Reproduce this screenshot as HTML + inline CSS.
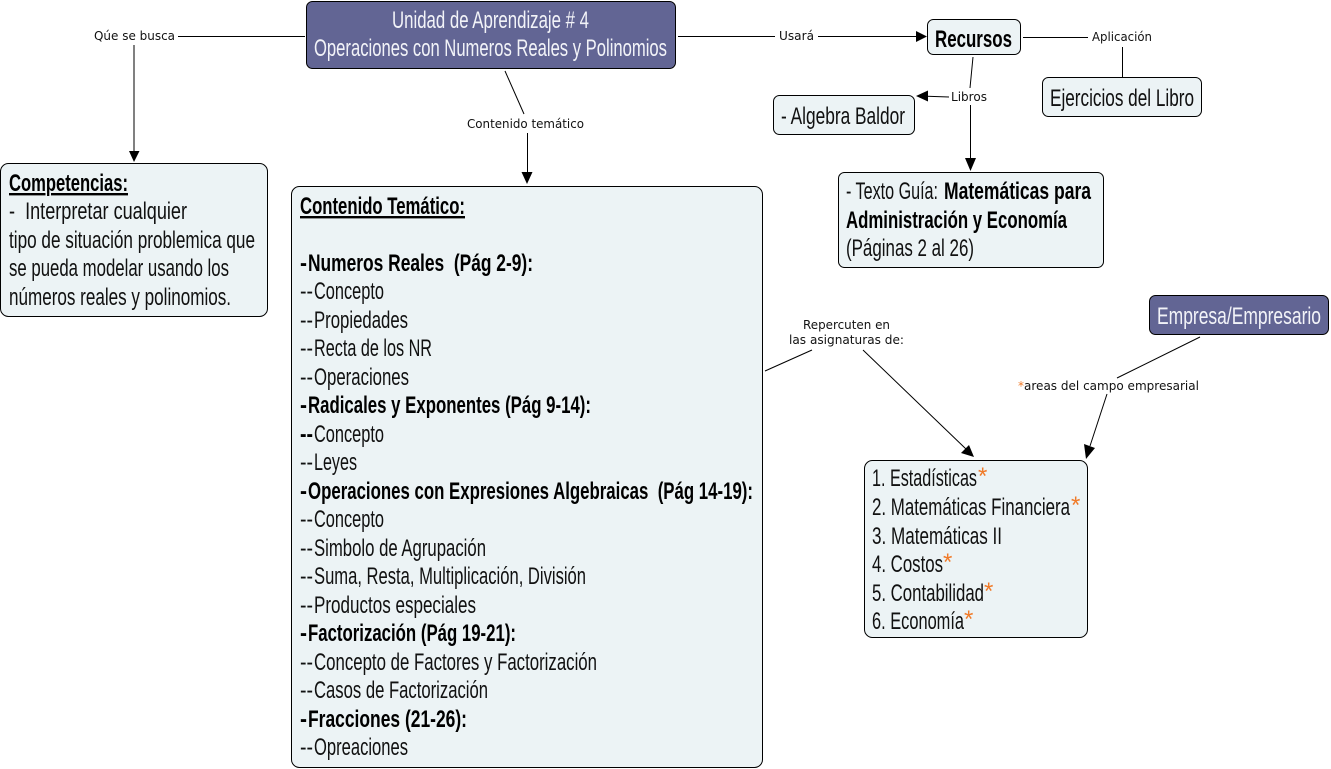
<!DOCTYPE html>
<html><head><meta charset="utf-8"><style>
html,body{margin:0;padding:0;background:#fff;width:1331px;height:769px;overflow:hidden}
svg{display:block}
.b{fill:#ecf3f5;stroke:#000;stroke-width:1}
.p{fill:#626594;stroke:#000;stroke-width:1}
.t{font-family:"Liberation Sans",sans-serif;font-size:24px;fill:#111}
.h{font-weight:bold;fill:#000}
.w{fill:#f2f3f8}
.l{font-family:"DejaVu Sans","Liberation Sans",sans-serif;font-size:12px;fill:#111}
.c{stroke:#000;stroke-width:1;fill:none}
.a{fill:#000}
.o{fill:#f07a28}
</style></head><body>
<svg width="1331" height="769" viewBox="0 0 1331 769" xmlns="http://www.w3.org/2000/svg">
<!-- connectors -->
<path class="c" d="M178 36.500H305M134 45V153M678 36.500H775M818 36.500H916M1023 37.500H1088M1122.500 47V77M973 57L970 88M949 97L927 96.300M970.500 105V160M505 71L524 114M527.500 133V173M765 371L812 350M863 350L966 449M1200 337L1117 378M1107 394L1090 446"/>
<path class="a" d="M129 151H139.500L134 162ZM916 31L927 36.500L916 42ZM928 90.500L916 96L928 101.500ZM965 158H976L970.500 171ZM521.500 172H532.500L527 184ZM961 453L969 445L974 457ZM1084 444L1095 448L1086 459Z"/>
<!-- boxes -->
<rect class="p" x="306.500" y="1.500" width="369" height="67" rx="6"/>
<rect class="b" x="0.500" y="163.500" width="267" height="153" rx="8"/>
<rect class="b" x="291.500" y="186.500" width="471" height="581" rx="8"/>
<rect class="b" x="927.500" y="19.500" width="93" height="35" rx="6"/>
<rect class="b" x="1042.500" y="77.500" width="159" height="39" rx="6"/>
<rect class="b" x="773.500" y="95.500" width="141" height="39" rx="6"/>
<rect class="b" x="838.500" y="172.500" width="265" height="95" rx="6"/>
<rect class="p" x="1149.500" y="295.500" width="179" height="39" rx="6"/>
<rect class="b" x="864.500" y="460.500" width="223" height="177" rx="8"/>
<!-- main -->
<text class="t w" x="392" y="28" textLength="197" lengthAdjust="spacingAndGlyphs">Unidad de Aprendizaje # 4</text>
<text class="t w" x="314" y="56" textLength="353" lengthAdjust="spacingAndGlyphs">Operaciones con Numeros Reales y Polinomios</text>
<!-- competencias -->
<text class="t h" x="9" y="191" textLength="119" lengthAdjust="spacingAndGlyphs" text-decoration="underline">Competencias:</text>
<text class="t" x="9" y="219" textLength="178" lengthAdjust="spacingAndGlyphs" xml:space="preserve">-  Interpretar cualquier</text>
<text class="t" x="9" y="248" textLength="246" lengthAdjust="spacingAndGlyphs">tipo de situación problemica que</text>
<text class="t" x="9" y="276" textLength="220" lengthAdjust="spacingAndGlyphs">se pueda modelar usando los</text>
<text class="t" x="9" y="305" textLength="222" lengthAdjust="spacingAndGlyphs">números reales y polinomios.</text>
<!-- contenido -->
<text class="t h" x="300" y="214" textLength="165" lengthAdjust="spacingAndGlyphs" text-decoration="underline">Contenido Temático:</text>
<text class="t h" x="300" y="271" textLength="7" lengthAdjust="spacingAndGlyphs">-</text><text class="t h" x="308" y="271" textLength="225" lengthAdjust="spacingAndGlyphs" xml:space="preserve">Numeros Reales  (Pág 2-9):</text>
<text class="t" x="300" y="299" textLength="13" lengthAdjust="spacingAndGlyphs">--</text><text class="t" x="314" y="299" textLength="70" lengthAdjust="spacingAndGlyphs">Concepto</text>
<text class="t" x="300" y="328" textLength="13" lengthAdjust="spacingAndGlyphs">--</text><text class="t" x="314" y="328" textLength="94" lengthAdjust="spacingAndGlyphs">Propiedades</text>
<text class="t" x="300" y="356" textLength="13" lengthAdjust="spacingAndGlyphs">--</text><text class="t" x="314" y="356" textLength="118" lengthAdjust="spacingAndGlyphs">Recta de los NR</text>
<text class="t" x="300" y="385" textLength="13" lengthAdjust="spacingAndGlyphs">--</text><text class="t" x="314" y="385" textLength="95" lengthAdjust="spacingAndGlyphs">Operaciones</text>
<text class="t h" x="300" y="413" textLength="7" lengthAdjust="spacingAndGlyphs">-</text><text class="t h" x="308" y="413" textLength="283" lengthAdjust="spacingAndGlyphs">Radicales y Exponentes (Pág 9-14):</text>
<text class="t h" x="300" y="442" textLength="13" lengthAdjust="spacingAndGlyphs">--</text><text class="t" x="314" y="442" textLength="70" lengthAdjust="spacingAndGlyphs">Concepto</text>
<text class="t" x="300" y="470" textLength="13" lengthAdjust="spacingAndGlyphs">--</text><text class="t" x="314" y="470" textLength="43" lengthAdjust="spacingAndGlyphs">Leyes</text>
<text class="t h" x="300" y="499" textLength="7" lengthAdjust="spacingAndGlyphs">-</text><text class="t h" x="308" y="499" textLength="445" lengthAdjust="spacingAndGlyphs" xml:space="preserve">Operaciones con Expresiones Algebraicas  (Pág 14-19):</text>
<text class="t" x="300" y="527" textLength="13" lengthAdjust="spacingAndGlyphs">--</text><text class="t" x="314" y="527" textLength="70" lengthAdjust="spacingAndGlyphs">Concepto</text>
<text class="t" x="300" y="556" textLength="13" lengthAdjust="spacingAndGlyphs">--</text><text class="t" x="314" y="556" textLength="172" lengthAdjust="spacingAndGlyphs">Simbolo de Agrupación</text>
<text class="t" x="300" y="584" textLength="13" lengthAdjust="spacingAndGlyphs">--</text><text class="t" x="314" y="584" textLength="272" lengthAdjust="spacingAndGlyphs">Suma, Resta, Multiplicación, División</text>
<text class="t" x="300" y="613" textLength="13" lengthAdjust="spacingAndGlyphs">--</text><text class="t" x="314" y="613" textLength="162" lengthAdjust="spacingAndGlyphs">Productos especiales</text>
<text class="t h" x="300" y="641" textLength="7" lengthAdjust="spacingAndGlyphs">-</text><text class="t h" x="308" y="641" textLength="208" lengthAdjust="spacingAndGlyphs">Factorización (Pág 19-21):</text>
<text class="t" x="300" y="670" textLength="13" lengthAdjust="spacingAndGlyphs">--</text><text class="t" x="314" y="670" textLength="283" lengthAdjust="spacingAndGlyphs">Concepto de Factores y Factorización</text>
<text class="t" x="300" y="698" textLength="13" lengthAdjust="spacingAndGlyphs">--</text><text class="t" x="314" y="698" textLength="174" lengthAdjust="spacingAndGlyphs">Casos de Factorización</text>
<text class="t h" x="300" y="727" textLength="7" lengthAdjust="spacingAndGlyphs">-</text><text class="t h" x="308" y="727" textLength="159" lengthAdjust="spacingAndGlyphs">Fracciones (21-26):</text>
<text class="t" x="300" y="755" textLength="13" lengthAdjust="spacingAndGlyphs">--</text><text class="t" x="314" y="755" textLength="94" lengthAdjust="spacingAndGlyphs">Opreaciones</text>
<!-- right -->
<text class="t h" x="935" y="47" textLength="77" lengthAdjust="spacingAndGlyphs">Recursos</text>
<text class="t" x="1050" y="106" textLength="144" lengthAdjust="spacingAndGlyphs">Ejercicios del Libro</text>
<text class="t" x="781" y="124" textLength="124" lengthAdjust="spacingAndGlyphs">- Algebra Baldor</text>
<text class="t" x="846" y="199" textLength="92" lengthAdjust="spacingAndGlyphs">- Texto Guía:</text>
<text class="t h" x="944" y="199" textLength="147" lengthAdjust="spacingAndGlyphs">Matemáticas para</text>
<text class="t h" x="846" y="228" textLength="221" lengthAdjust="spacingAndGlyphs">Administración y Economía</text>
<text class="t" x="846" y="256" textLength="128" lengthAdjust="spacingAndGlyphs">(Páginas 2 al 26)</text>
<text class="t w" x="1157" y="324" textLength="164" lengthAdjust="spacingAndGlyphs">Empresa/Empresario</text>
<text class="t" x="872" y="486" textLength="105" lengthAdjust="spacingAndGlyphs">1. Estadísticas</text>
<text class="t o" x="978" y="484">*</text>
<text class="t" x="872" y="515" textLength="198" lengthAdjust="spacingAndGlyphs">2. Matemáticas Financiera</text>
<text class="t o" x="1071" y="513">*</text>
<text class="t" x="872" y="544" textLength="130" lengthAdjust="spacingAndGlyphs">3. Matemáticas II</text>
<text class="t" x="872" y="572" textLength="71" lengthAdjust="spacingAndGlyphs">4. Costos</text>
<text class="t o" x="943" y="570">*</text>
<text class="t" x="872" y="601" textLength="112" lengthAdjust="spacingAndGlyphs">5. Contabilidad</text>
<text class="t o" x="984" y="599">*</text>
<text class="t" x="872" y="629" textLength="92" lengthAdjust="spacingAndGlyphs">6. Economía</text>
<text class="t o" x="964" y="627">*</text>
<!-- labels -->
<text class="l" x="94" y="40" textLength="81" lengthAdjust="spacingAndGlyphs">Qúe se busca</text>
<text class="l" x="467" y="128" textLength="117" lengthAdjust="spacingAndGlyphs">Contenido temático</text>
<text class="l" x="779" y="40" textLength="35" lengthAdjust="spacingAndGlyphs">Usará</text>
<text class="l" x="1092" y="41" textLength="60" lengthAdjust="spacingAndGlyphs">Aplicación</text>
<text class="l" x="951" y="101" textLength="36" lengthAdjust="spacingAndGlyphs">Libros</text>
<text class="l" x="803" y="329" textLength="87" lengthAdjust="spacingAndGlyphs">Repercuten en</text>
<text class="l" x="789" y="344" textLength="115" lengthAdjust="spacingAndGlyphs">las asignaturas de:</text>
<text class="l" x="1018" y="390" textLength="181" lengthAdjust="spacingAndGlyphs"><tspan class="o">*</tspan>areas del campo empresarial</text>
</svg>
</body></html>
